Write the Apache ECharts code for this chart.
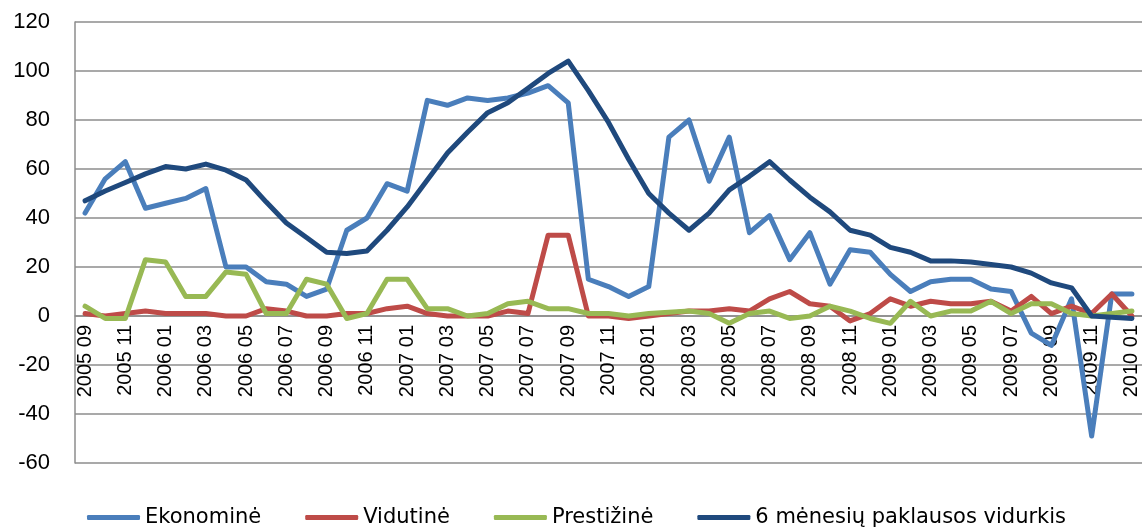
<!DOCTYPE html>
<html>
<head>
<meta charset="utf-8">
<script src="https://cdn.jsdelivr.net/npm/echarts@6/dist/echarts.min.js"></script>
<style>
  html, body { margin: 0; padding: 0; background: #fff; }
  #chart { width: 1142px; height: 529px; }
</style>
</head>
<body>
<div id="chart"></div>
<script>
// months from 2005 09 to 2010 01
const months = [
    '2005 09', '2005 10', '2005 11', '2005 12',
    '2006 01', '2006 02', '2006 03', '2006 04', '2006 05', '2006 06', '2006 07', '2006 08', '2006 09', '2006 10', '2006 11', '2006 12',
    '2007 01', '2007 02', '2007 03', '2007 04', '2007 05', '2007 06', '2007 07', '2007 08', '2007 09', '2007 10', '2007 11', '2007 12',
    '2008 01', '2008 02', '2008 03', '2008 04', '2008 05', '2008 06', '2008 07', '2008 08', '2008 09', '2008 10', '2008 11', '2008 12',
    '2009 01', '2009 02', '2009 03', '2009 04', '2009 05', '2009 06', '2009 07', '2009 08', '2009 09', '2009 10', '2009 11', '2009 12',
    '2010 01'
];

const ekonomine = [42, 56, 63, 44, 46, 48, 52, 20, 20, 14, 13, 8, 11, 35, 40, 54, 51, 88, 86, 89, 88, 89, 91, 94, 87, 15, 12, 8,
    12, 73, 80, 55, 73, 34, 41, 23, 34, 13, 27, 26, 17, 10, 14, 15, 15, 11, 10, -7, -12, 7, -49, 9, 9];

const vidutine = [1, 0, 1, 2, 1, 1, 1, 0, 0, 3, 2, 0, 0, 1, 1, 3, 4, 1, 0, 0, 0, 2, 1, 33, 33, 0, 0, -1,
    0, 1, 2, 2, 3, 2, 7, 10, 5, 4, -2, 1, 7, 4, 6, 5, 5, 6, 2, 8, 1, 4, 1, 9, 0];

const prestizine = [4, -1, -1, 23, 22, 8, 8, 18, 17, 1, 1, 15, 13, -1, 1, 15, 15, 3, 3, 0, 1, 5, 6, 3, 3, 1, 1, 0,
    1, 1.5, 2, 1, -3, 1, 2, -1, 0, 4, 2, -1, -3, 6, 0, 2, 2, 6, 1, 5, 5, 1, 0, 1, 2];

const vidurkis = [47, 51, 54.5, 58, 61, 60, 62, 59.5, 55.5, 46.5, 38, 32, 26, 25.5, 26.5, 35, 44.5, 55.5, 66.5, 75, 83, 87, 93, 99, 104, 92, 79, 64,
    50, 42, 35, 42, 51.5, 57, 63, 55.5, 48.5, 42.5, 35, 33, 28, 26, 22.5, 22.5, 22, 21, 20, 17.5, 13.5, 11.5, 0, -0.5, -1];

const seriesNames = ['Ekonominė', 'Vidutinė', 'Prestižinė', '6 mėnesių paklausos vidurkis'];
const colors = ['#4a7ebb', '#be4b48', '#98b954', '#1f497d'];

var chartDom = document.getElementById('chart');
var chart = echarts.init(chartDom);

const gridColor = '#8c8c8c';

function lineSeries(name, data, color) {
    return {
        name: name,
        type: 'line',
        data: data,
        color: color,
        z: 10,
        symbol: 'none',
        smooth: false,
        lineStyle: {
            width: 5,
            color: color,
            join: 'round',
            cap: 'round'
        }
    };
}

let option = {
    animation: false,
    grid: {
        left: 75,
        right: 0,
        top: 22,
        bottom: 66,
        outerBoundsMode: 'none',
        containLabel: false
    },
    legend: {
        data: seriesNames,
        left: 82,
        top: 502,
        icon: 'roundRect',
        itemWidth: 53,
        itemHeight: 5,
        itemGap: 44,
        textStyle: {
            fontFamily: 'DejaVu Sans, sans-serif',
            fontSize: 21,
            color: '#000'
        }
    },
    xAxis: {
        type: 'category',
        data: months,
        boundaryGap: true,
        z: 0,
        // labels sit under the zero line (147px above the plot bottom)
        offset: -147,
        axisLine: {
            onZero: false,
            lineStyle: {color: gridColor, width: 1.5}
        },
        axisTick: {show: false},
        axisLabel: {
            interval: 1,
            rotate: 90,
            margin: 9,
            color: '#000',
            fontFamily: 'Liberation Sans, sans-serif',
            fontSize: 20
        }
    },
    yAxis: {
        type: 'value',
        min: -60,
        max: 120,
        interval: 20,
        axisLine: {
            show: true,
            lineStyle: {color: gridColor, width: 1.5}
        },
        axisTick: {show: false},
        splitLine: {
            lineStyle: {color: gridColor, width: 1.5}
        },
        axisLabel: {
            margin: 25,
            color: '#000',
            fontFamily: 'Liberation Sans, sans-serif',
            fontSize: 22
        }
    },
    series: [
        lineSeries(seriesNames[0], ekonomine, colors[0]),
        lineSeries(seriesNames[1], vidutine, colors[1]),
        lineSeries(seriesNames[2], prestizine, colors[2]),
        lineSeries(seriesNames[3], vidurkis, colors[3])
    ]
};

chart.setOption(option);
</script>
</body>
</html>
